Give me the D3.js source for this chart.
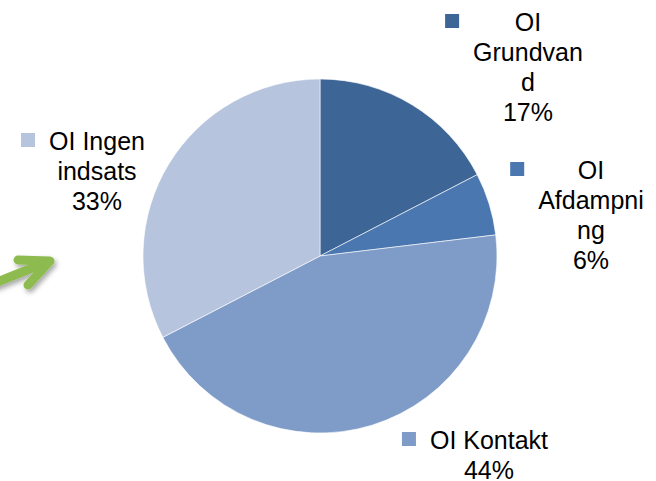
<!DOCTYPE html>
<html>
<head>
<meta charset="utf-8">
<script src="https://cdn.jsdelivr.net/npm/d3@7"></script>
<style>
  html, body { margin: 0; padding: 0; background: #fff; }
  svg { display: block; font-family: "Liberation Sans", Arial, sans-serif; }
</style>
</head>
<body>
<div id="chart"></div>
<script>
// Chart data
var categories = ["OI Grundvand", "OI Afdampning", "OI Kontakt", "OI Ingen indsats"];
var shares = [17.4, 5.7, 44.3, 32.6];
var colors = ["#3d6596", "#4a77af", "#7f9bc7", "#b6c4de"];

// Label layout: centre x, first baseline, wrap width
var labelLayout = [
  {x: 528, y: 31, wrap: 120},
  {x: 591, y: 179, wrap: 118},
  {x: 489, y: 449, wrap: 130},
  {x: 97, y: 150, wrap: 120}
];

function createChart(divID) {
  var width = 656, height = 481;
  var cx = 320, cy = 256, radius = 177;
  var fontSize = 25, lineHeight = 30;

  var chart = d3.select("#" + divID).append("svg")
      .attr("width", width)
      .attr("height", height);

  var defs = chart.append("defs");
  var shadow = defs.append("filter")
      .attr("id", "shadow")
      .attr("x", "-50%").attr("y", "-50%")
      .attr("width", "200%").attr("height", "200%");
  shadow.append("feDropShadow")
      .attr("dx", 2).attr("dy", 3)
      .attr("stdDeviation", 2.5)
      .attr("flood-color", "#000")
      .attr("flood-opacity", 0.35);

  // Green arrow on the left
  var arrow = chart.append("g")
      .attr("filter", "url(#shadow)")
      .attr("fill", "none")
      .attr("stroke", "#8dbb4f")
      .attr("stroke-width", 9)
      .attr("stroke-linecap", "round")
      .attr("stroke-linejoin", "round");
  arrow.append("path").attr("d", "M-10,285 L47,262");
  arrow.append("path").attr("d", "M18,260 L50,261 L28,285");

  // Pie
  var pie = d3.pie().sort(null).value(function(d) { return d; });
  var arc = d3.arc().innerRadius(0).outerRadius(radius);
  var total = d3.sum(shares);

  var g = chart.append("g")
      .attr("transform", "translate(" + cx + "," + cy + ")");

  g.selectAll("path.slice")
      .data(pie(shares))
    .enter().append("path")
      .attr("class", "slice")
      .attr("d", arc)
      .attr("fill", function(d, i) { return colors[i]; })
      .attr("stroke", "#ffffff")
      .attr("stroke-width", 0.6);

  // Labels with legend key
  var measure = chart.append("text")
      .attr("font-size", fontSize)
      .attr("visibility", "hidden");
  function textWidth(s) {
    measure.text(s);
    return measure.node().getComputedTextLength();
  }
  function wrapText(str, maxW) {
    var words = str.split(" "), lines = [], cur = "";
    words.forEach(function(w) {
      var test = cur ? cur + " " + w : w;
      if (textWidth(test) <= maxW) { cur = test; return; }
      if (cur) lines.push(cur);
      cur = w;
      while (textWidth(cur) > maxW) {
        var k = cur.length;
        while (k > 1 && textWidth(cur.slice(0, k)) > maxW) k--;
        lines.push(cur.slice(0, k));
        cur = cur.slice(k);
      }
    });
    if (cur) lines.push(cur);
    return lines;
  }

  categories.forEach(function(name, i) {
    var lay = labelLayout[i];
    var lines = wrapText(name, lay.wrap);
    lines.push(Math.round(shares[i] / total * 100) + "%");

    var lg = chart.append("g").attr("class", "label");
    var txt = lg.append("text")
        .attr("font-size", fontSize)
        .attr("fill", "#000")
        .attr("text-anchor", "middle");
    lines.forEach(function(l, j) {
      txt.append("tspan")
          .attr("x", lay.x)
          .attr("y", lay.y + j * lineHeight)
          .text(l);
    });
    var maxW = d3.max(lines, textWidth);
    lg.append("rect")
        .attr("x", lay.x - maxW / 2 - 28)
        .attr("y", lay.y - 17)
        .attr("width", 14)
        .attr("height", 14)
        .attr("fill", colors[i]);
  });
  measure.remove();
}

createChart("chart");
</script>
</body>
</html>
